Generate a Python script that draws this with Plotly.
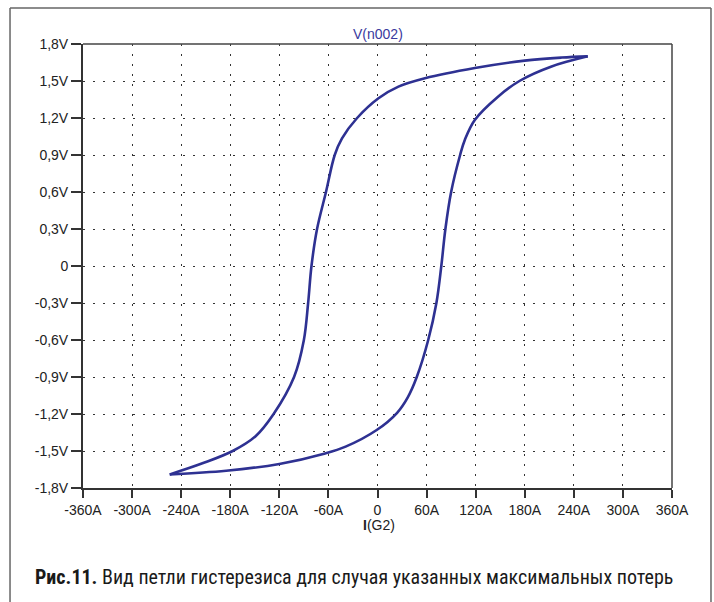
import plotly.graph_objects as go

# Hysteresis loop
upper_i = [257, 225, 180, 119, 58, 25.6, 1.2, -25.2, -43.4, -52.3, -62.9, -73.9, -80.7, -84.8, -90, -102, -127, -149, -177, -214, -254]
upper_v = [1.70, 1.69, 1.665, 1.605, 1.522, 1.454, 1.36, 1.198, 1.035, 0.90, 0.602, 0.30, 0.0, -0.30, -0.60, -0.90, -1.20, -1.38, -1.50, -1.60, -1.69]
lower_i = [-254, -185, -120, -64, -39, -1, 24, 37, 48, 62, 72, 78, 83, 90, 101, 106.7, 118.9, 147.3, 174, 212, 257]
lower_v = [-1.69, -1.66, -1.605, -1.52, -1.465, -1.33, -1.19, -1.065, -0.90, -0.60, -0.30, 0.0, 0.30, 0.60, 0.90, 1.022, 1.184, 1.373, 1.502, 1.616, 1.70]

x_ticks = [-360, -300, -240, -180, -120, -60, 0, 60, 120, 180, 240, 300, 360]
x_labels = ["-360A", "-300A", "-240A", "-180A", "-120A", "-60A", "0", "60A", "120A", "180A", "240A", "300A", "360A"]
y_ticks = [1.8, 1.5, 1.2, 0.9, 0.6, 0.3, 0, -0.3, -0.6, -0.9, -1.2, -1.5, -1.8]
y_labels = ["1,8V", "1,5V", "1,2V", "0,9V", "0,6V", "0,3V", "0", "-0,3V", "-0,6V", "-0,9V", "-1,2V", "-1,5V", "-1,8V"]

title_text = "V(n002)"
xlabel_text = "<b>I</b>(G2)"
caption_text = "<b>Рис.11.</b> Вид петли гистерезиса для случая указанных максимальных потерь"

curve_color = "#2e3192"

fig = go.Figure()
for xs, ys in ((upper_i, upper_v), (lower_i, lower_v)):
    fig.add_trace(go.Scatter(x=xs, y=ys, mode="lines",
                             line=dict(color=curve_color, width=2.6, shape="spline", smoothing=1.0),
                             showlegend=False, hoverinfo="skip"))

tick_font = dict(family="Liberation Sans, Arial, sans-serif", size=14, color="#222222")
fig.update_layout(
    width=714, height=602,
    margin=dict(l=83, r=42, t=44, b=114),
    paper_bgcolor="white", plot_bgcolor="white",
    xaxis=dict(range=[-360, 360], tickvals=x_ticks, ticktext=x_labels, tickfont=tick_font,
               showgrid=True, gridcolor="#333333", gridwidth=1.4, griddash="2px,8px",
               zeroline=False, showline=True, linecolor="#333333", linewidth=2,
               ticks="outside", ticklen=8, tickwidth=2, tickcolor="#333333", fixedrange=True),
    yaxis=dict(range=[-1.8, 1.8], tickvals=y_ticks, ticktext=y_labels, tickfont=tick_font,
               showgrid=True, gridcolor="#333333", gridwidth=1.4, griddash="2px,8px",
               zeroline=False, showline=True, linecolor="#333333", linewidth=2,
               ticks="outside", ticklen=10, tickwidth=2, tickcolor="#333333", fixedrange=True),
)

# plot box (top & right border)
fig.add_shape(type="line", xref="paper", yref="paper", x0=0, x1=1, y0=1, y1=1,
              line=dict(color="#444444", width=1.5))
fig.add_shape(type="line", xref="paper", yref="paper", x0=1, x1=1, y0=0, y1=1,
              line=dict(color="#444444", width=1.5))
# outer frame (top, left, right)
fl, fr, ft, fb = -0.1239, 1.0662, 1.081, -0.26
for x0, x1, y0, y1 in ((fl, fr, ft, ft), (fl, fl, fb, ft), (fr, fr, fb, ft)):
    fig.add_shape(type="line", xref="paper", yref="paper", x0=x0, x1=x1, y0=y0, y1=y1,
                  line=dict(color="#666666", width=1.5))

fig.add_annotation(text=title_text, xref="paper", yref="paper", x=0.5, y=1.0225,
                   xanchor="center", yanchor="middle", showarrow=False,
                   font=dict(family="Liberation Sans, Arial, sans-serif", size=14, color="#3a3a9e"))
fig.add_annotation(text=xlabel_text, xref="paper", yref="paper", x=0.502, y=-0.0825,
                   xanchor="center", yanchor="middle", showarrow=False,
                   font=dict(family="Liberation Sans, Arial, sans-serif", size=14, color="#222222"))
fig.add_annotation(text=caption_text, xref="paper", yref="paper", x=-0.0849, y=-0.2005,
                   xanchor="left", yanchor="middle", showarrow=False,
                   font=dict(family="Liberation Sans Narrow, Roboto Condensed, Arial Narrow, sans-serif",
                             size=20, color="#1a1a1a"))

fig.write_html("out.html")
